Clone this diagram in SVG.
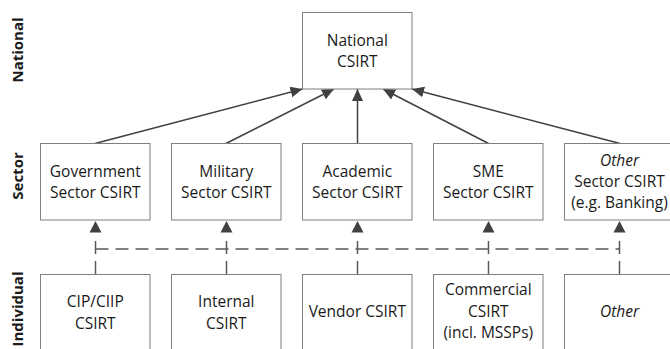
<svg xmlns="http://www.w3.org/2000/svg" width="670" height="349" viewBox="0 0 670 349">
  <style>
    .box { fill: #ffffff; stroke: #7f7f7f; stroke-width: 1; }
    .lbl { font-family: "Open Sans", "Liberation Sans", sans-serif; font-size: 15.5px; fill: #1a1a1a; text-anchor: middle; }
    .it { font-style: italic; }
    .tier { font-family: "Open Sans", "Liberation Sans", sans-serif; font-size: 15px; font-weight: bold; fill: #1a1a1a; text-anchor: middle; }
    .up { fill: none; stroke: #404040; stroke-width: 1.5; marker-end: url(#head); }
    .dash { fill: none; stroke: #595959; stroke-width: 1.5; stroke-dasharray: 13 7; }
  </style>
  <defs>
    <marker id="head" markerUnits="userSpaceOnUse" markerWidth="12" markerHeight="12" viewBox="0 0 12 12" refX="12" refY="6" orient="auto">
      <path d="M0,0.5 L12,6 L0,11.5 z" fill="#404040"/>
    </marker>
  </defs>
  <rect width="670" height="349" fill="#ffffff"/>

  <!-- tier labels -->
  <g id="tier-labels">
    <text class="tier" transform="translate(23,50) rotate(-90)">National</text>
    <text class="tier" transform="translate(23,176) rotate(-90)">Sector</text>
    <text class="tier" transform="translate(23,309) rotate(-90)">Individual</text>
  </g>

  <!-- connectors -->
  <g id="connectors">
    <line class="up" x1="95" y1="143.5" x2="302.5" y2="89"/>
    <line class="up" x1="226" y1="143.5" x2="334" y2="89"/>
    <line class="up" x1="357.5" y1="143.5" x2="357.5" y2="89"/>
    <line class="up" x1="488.5" y1="143.5" x2="383" y2="89"/>
    <line class="up" x1="620" y1="143.5" x2="412" y2="89"/>

    <line class="dash" x1="95.5" y1="249" x2="620" y2="249"/>
    <line class="dash" x1="95.5" y1="274" x2="95.5" y2="238"/>
    <line class="dash" x1="226.5" y1="274" x2="226.5" y2="238"/>
    <line class="dash" x1="357.5" y1="274" x2="357.5" y2="238"/>
    <line class="dash" x1="488.5" y1="274" x2="488.5" y2="238"/>
    <line class="dash" x1="619.5" y1="274" x2="619.5" y2="238"/>
    <g fill="#404040">
      <path d="M95.5,221 L101.5,232.5 L89.5,232.5 z"/>
      <path d="M226.5,221 L232.5,232.5 L220.5,232.5 z"/>
      <path d="M357.5,221 L363.5,232.5 L351.5,232.5 z"/>
      <path d="M488.5,221 L494.5,232.5 L482.5,232.5 z"/>
      <path d="M619.5,221 L625.5,232.5 L613.5,232.5 z"/>
    </g>
  </g>

  <!-- national tier -->
  <g id="national">
    <rect class="box" x="302.5" y="12.5" width="109.5" height="76.5"/>
    <text class="lbl" x="357.3" y="45.5">National</text>
    <text class="lbl" x="357.3" y="66.5">CSIRT</text>
  </g>

  <!-- sector tier -->
  <g id="government">
    <rect class="box" x="40.5" y="143.5" width="109.5" height="76.5"/>
    <text class="lbl" x="95.3" y="176.5">Government</text>
    <text class="lbl" x="95.3" y="197.5">Sector CSIRT</text>
  </g>
  <g id="military">
    <rect class="box" x="171.5" y="143.5" width="109.5" height="76.5"/>
    <text class="lbl" x="226.3" y="176.5">Military</text>
    <text class="lbl" x="226.3" y="197.5">Sector CSIRT</text>
  </g>
  <g id="academic">
    <rect class="box" x="302.5" y="143.5" width="109.5" height="76.5"/>
    <text class="lbl" x="357.3" y="176.5">Academic</text>
    <text class="lbl" x="357.3" y="197.5">Sector CSIRT</text>
  </g>
  <g id="sme">
    <rect class="box" x="433.5" y="143.5" width="109.5" height="76.5"/>
    <text class="lbl" x="488.3" y="176.5">SME</text>
    <text class="lbl" x="488.3" y="197.5">Sector CSIRT</text>
  </g>
  <g id="other-sector">
    <rect class="box" x="564.5" y="143.5" width="109.5" height="76.5"/>
    <text class="lbl it" x="619.5" y="166">Other</text>
    <text class="lbl" x="619.5" y="187">Sector CSIRT</text>
    <text class="lbl" x="619.5" y="208">(e.g. Banking)</text>
  </g>

  <!-- individual tier -->
  <g id="cip">
    <rect class="box" x="40.5" y="274.5" width="109.5" height="80"/>
    <text class="lbl" x="95.3" y="306.5">CIP/CIIP</text>
    <text class="lbl" x="95.3" y="328.5">CSIRT</text>
  </g>
  <g id="internal">
    <rect class="box" x="171.5" y="274.5" width="109.5" height="80"/>
    <text class="lbl" x="226.3" y="306.5">Internal</text>
    <text class="lbl" x="226.3" y="328.5">CSIRT</text>
  </g>
  <g id="vendor">
    <rect class="box" x="302.5" y="274.5" width="109.5" height="80"/>
    <text class="lbl" x="357.3" y="317">Vendor CSIRT</text>
  </g>
  <g id="commercial">
    <rect class="box" x="433.5" y="274.5" width="109.5" height="80"/>
    <text class="lbl" x="488.3" y="295">Commercial</text>
    <text class="lbl" x="488.3" y="316.5">CSIRT</text>
    <text class="lbl" x="488.3" y="338">(incl. MSSPs)</text>
  </g>
  <g id="other-individual">
    <rect class="box" x="564.5" y="274.5" width="109.5" height="80"/>
    <text class="lbl it" x="619.5" y="317">Other</text>
  </g>
</svg>
